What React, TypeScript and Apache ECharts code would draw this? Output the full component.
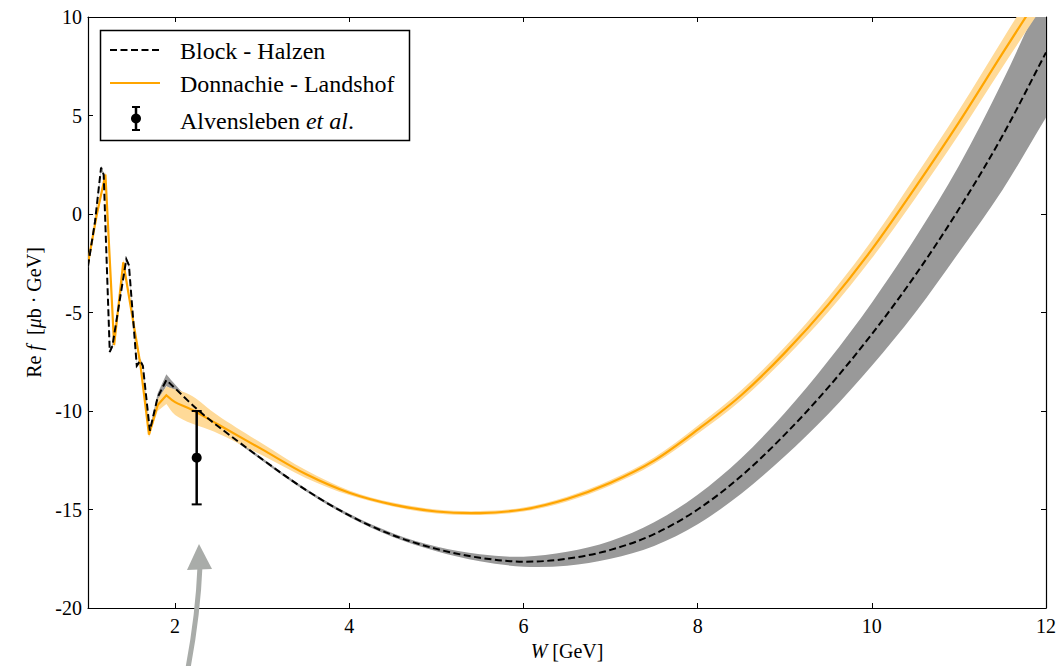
import React, { useEffect, useRef } from "react";
import * as echarts from "echarts";

// ---- Data ----
const bhW = [1.0, 1.08, 1.15, 1.18, 1.25, 1.28, 1.44, 1.47, 1.56, 1.6, 1.63, 1.71, 1.8, 1.9, 2.0, 2.25, 2.5, 3.0, 3.5, 4.0, 4.5, 5.0, 5.5, 6.0, 6.5, 7.0, 7.5, 8.0, 8.5, 9.0, 9.5, 10.0, 10.5, 11.0, 11.5, 12.0];
const bhRe = [-2.65, -0.4, 2.35, 2.0, -7.0, -6.7, -2.3, -2.6, -7.7, -7.45, -7.7, -11.0, -9.3, -8.43, -8.85, -9.9, -10.8, -12.45, -14.0, -15.3, -16.3, -17.0, -17.45, -17.65, -17.5, -17.05, -16.25, -15.0, -13.3, -11.2, -8.8, -6.1, -3.1, 0.25, 3.97, 8.2];
const bhErr = [0.1, 0.1, 0.1, 0.1, 0.1, 0.1, 0.1, 0.1, 0.1, 0.1, 0.1, 0.1, 0.2, 0.3, 0.2, 0.1, 0.07, 0.07, 0.07, 0.08, 0.1, 0.12, 0.18, 0.25, 0.35, 0.45, 0.6, 0.75, 0.9, 1.1, 1.35, 1.6, 1.9, 2.2, 2.75, 3.3];
const bhSharpUntil = 13; // W = 1.9, last resonance peak

const dlW = [1.0, 1.1, 1.2, 1.3, 1.405, 1.6, 1.7, 1.8, 1.9, 2.0, 2.2, 2.5, 3.0, 3.5, 4.0, 4.5, 5.0, 5.5, 6.0, 6.5, 7.0, 7.5, 8.0, 8.5, 9.0, 9.5, 10.0, 10.5, 11.0, 11.5, 12.0];
const dlRe = [-2.5, -0.05, 2.0, -6.65, -2.45, -7.6, -11.2, -9.7, -9.2, -9.55, -9.95, -10.7, -11.95, -13.2, -14.15, -14.75, -15.1, -15.18, -15.0, -14.47, -13.64, -12.52, -10.95, -9.2, -7.05, -4.6, -1.8, 1.35, 4.65, 8.15, 11.6];
const dlErr = [0.15, 0.15, 0.15, 0.15, 0.15, 0.15, 0.15, 0.3, 0.45, 0.65, 0.7, 0.45, 0.3, 0.2, 0.12, 0.1, 0.1, 0.1, 0.1, 0.12, 0.14, 0.16, 0.2, 0.25, 0.3, 0.38, 0.45, 0.55, 0.62, 0.7, 0.8];
const dlSharpUntil = 8; // W = 1.9

const ptW = [2.248];
const ptRe = [-12.37];
const ptErr = [2.37];

const xTicks = [2, 4, 6, 8, 10, 12];
const yMin = -20;
const yMax = 10;
const yStep = 5;

const legendNames = ["Block - Halzen", "Donnachie - Landshof", "Alvensleben {i|et al}."];

const FONT = "Liberation Serif, Times New Roman, serif";

// tangent for Catmull-Rom, one-sided at corners and ends
function tangent(p: number[][], k: number, s: number) {
  const n = p.length;
  if (k > s && k < n - 1) return [(p[k + 1][0] - p[k - 1][0]) / 2, (p[k + 1][1] - p[k - 1][1]) / 2];
  if (k < n - 1) return [p[k + 1][0] - p[k][0], p[k + 1][1] - p[k][1]];
  return [p[k][0] - p[k - 1][0], p[k][1] - p[k - 1][1]];
}

function segment(p: number[][], s: number, from: number, to: number) {
  const j = Math.min(from, to);
  if (j < s) return ` L${p[to][0]},${p[to][1]}`;
  const ta = tangent(p, from, s);
  const tb = tangent(p, to, s);
  const dir = to > from ? 1 : -1;
  const c1 = [p[from][0] + (dir * ta[0]) / 3, p[from][1] + (dir * ta[1]) / 3];
  const c2 = [p[to][0] - (dir * tb[0]) / 3, p[to][1] - (dir * tb[1]) / 3];
  return ` C${c1[0]},${c1[1]} ${c2[0]},${c2[1]} ${p[to][0]},${p[to][1]}`;
}

function linePath(p: number[][], s: number) {
  let d = `M${p[0][0]},${p[0][1]}`;
  for (let i = 1; i < p.length; i++) d += segment(p, s, i - 1, i);
  return d;
}

function bandPath(u: number[][], l: number[][], s: number) {
  let d = linePath(u, s);
  const n = l.length;
  d += ` L${l[n - 1][0]},${l[n - 1][1]}`;
  for (let i = n - 1; i > 0; i--) d += segment(l, s, i, i - 1);
  return d + " Z";
}

function bandSeries(w: number[], c: number[], e: number[], s: number, color: string, z: number) {
  return {
    type: "custom",
    clip: true,
    silent: true,
    z,
    data: [[w[0], c[0]]],
    encode: { x: 0, y: 1 },
    renderItem: (_params: any, api: any) => {
      const up = w.map((x, i) => api.coord([x, c[i] + e[i]]));
      const lo = w.map((x, i) => api.coord([x, c[i] - e[i]]));
      return {
        type: "path",
        shape: { pathData: bandPath(up, lo, s) },
        style: { fill: color, stroke: "none" },
      };
    },
  };
}

function curveSeries(w: number[], c: number[], s: number, style: any, z: number) {
  return {
    type: "custom",
    clip: true,
    silent: true,
    z,
    data: [[w[0], c[0]]],
    encode: { x: 0, y: 1 },
    renderItem: (_params: any, api: any) => {
      const pts = w.map((x, i) => api.coord([x, c[i]]));
      return {
        type: "path",
        shape: { pathData: linePath(pts, s) },
        style: { fill: "none", ...style },
      };
    },
  };
}

export default function App() {
  const ref = useRef<HTMLDivElement>(null);
  useEffect(() => {
    if (!ref.current) return;
    const chart = echarts.init(ref.current, undefined, { renderer: "svg" });
    const axisText = { fontFamily: FONT, fontSize: 20, color: "#000" };
    const lineAxis = { show: true, onZero: false, lineStyle: { color: "#000", width: 1.2 } };
    const tick = { show: true, inside: true, length: 5, lineStyle: { color: "#000", width: 1 } };

    const option: any = {
      animation: false,
      backgroundColor: "#fff",
      grid: { left: 88, right: 13, top: 17, bottom: 58, containLabel: false, outerBoundsMode: "none" },
      xAxis: [
        {
          type: "value", min: 1, max: 12, position: "bottom",
          axisLine: lineAxis,
          axisTick: { ...tick, customValues: xTicks },
          axisLabel: { show: true, customValues: xTicks, margin: 8, ...axisText },
          splitLine: { show: false },
          name: "{i|W} [GeV]", nameLocation: "middle", nameGap: 30,
          nameTextStyle: { ...axisText, rich: { i: { fontFamily: FONT, fontSize: 20, fontStyle: "italic", color: "#000" } } },
        },
        {
          type: "value", min: 1, max: 12, position: "top",
          axisLine: lineAxis,
          axisTick: { ...tick, customValues: xTicks },
          axisLabel: { show: false },
          splitLine: { show: false },
        },
      ],
      yAxis: [
        {
          type: "value", min: yMin, max: yMax, interval: yStep, position: "left",
          axisLine: lineAxis, axisTick: tick,
          axisLabel: { show: true, margin: 6, ...axisText },
          splitLine: { show: false },
          name: "Re {i|f}  [{i|μ}b · GeV]", nameLocation: "middle", nameGap: 44,
          nameTextStyle: { ...axisText, rich: { i: { fontFamily: FONT, fontSize: 20, fontStyle: "italic", color: "#000" } } },
        },
        {
          type: "value", min: yMin, max: yMax, interval: yStep, position: "right",
          axisLine: lineAxis, axisTick: tick,
          axisLabel: { show: false }, splitLine: { show: false },
        },
      ],
      series: [
        bandSeries(bhW, bhRe, bhErr, bhSharpUntil, "#999999", 1),
        bandSeries(dlW, dlRe, dlErr, dlSharpUntil, "#FFDA98", 2),
        curveSeries(dlW, dlRe, dlSharpUntil, { stroke: "#FFA500", lineWidth: 2.2 }, 3),
        curveSeries(bhW, bhRe, bhSharpUntil, { stroke: "#000", lineWidth: 2, lineDash: [7, 3.5] }, 4),
        {
          type: "custom", z: 5, silent: true,
          data: ptW.map((w, i) => [w, ptRe[i], ptErr[i]]),
          encode: { x: 0, y: 1 },
          renderItem: (_p: any, api: any) => {
            const w = api.value(0), v = api.value(1), e = api.value(2);
            const top = api.coord([w, v + e]);
            const bot = api.coord([w, v - e]);
            const mid = api.coord([w, v]);
            return {
              type: "group",
              children: [
                { type: "line", shape: { x1: top[0], y1: top[1], x2: bot[0], y2: bot[1] }, style: { stroke: "#000", lineWidth: 2.5 } },
                { type: "line", shape: { x1: top[0] - 5, y1: top[1], x2: top[0] + 5, y2: top[1] }, style: { stroke: "#000", lineWidth: 2 } },
                { type: "line", shape: { x1: bot[0] - 5, y1: bot[1], x2: bot[0] + 5, y2: bot[1] }, style: { stroke: "#000", lineWidth: 2 } },
                { type: "circle", shape: { cx: mid[0], cy: mid[1], r: 5 }, style: { fill: "#000" } },
              ],
            };
          },
        },
      ],
      graphic: [
        { type: "rect", z: 100, shape: { x: 100.5, y: 30.5, width: 309, height: 110 }, style: { fill: "#fff", stroke: "#000", lineWidth: 1.5 } },
        { type: "line", z: 101, shape: { x1: 110, y1: 50, x2: 160, y2: 50 }, style: { stroke: "#000", lineWidth: 2, lineDash: [7, 3.5] } },
        { type: "line", z: 101, shape: { x1: 110, y1: 83, x2: 160, y2: 83 }, style: { stroke: "#FFA500", lineWidth: 2.2 } },
        { type: "line", z: 101, shape: { x1: 136, y1: 107, x2: 136, y2: 130 }, style: { stroke: "#000", lineWidth: 2.5 } },
        { type: "line", z: 101, shape: { x1: 132, y1: 107, x2: 140, y2: 107 }, style: { stroke: "#000", lineWidth: 2 } },
        { type: "line", z: 101, shape: { x1: 132, y1: 130, x2: 140, y2: 130 }, style: { stroke: "#000", lineWidth: 2 } },
        { type: "circle", z: 101, shape: { cx: 136, cy: 118.5, r: 5 }, style: { fill: "#000" } },
        { type: "text", z: 101, x: 180, y: 50.5, style: { text: legendNames[0], fontFamily: FONT, fontSize: 24, fill: "#000", verticalAlign: "middle" } },
        { type: "text", z: 101, x: 180, y: 84, style: { text: legendNames[1], fontFamily: FONT, fontSize: 24, fill: "#000", verticalAlign: "middle" } },
        {
          type: "text", z: 101, x: 180, y: 121,
          style: {
            text: legendNames[2], fontFamily: FONT, fontSize: 24, fill: "#000", verticalAlign: "middle",
            rich: { i: { fontFamily: FONT, fontSize: 24, fontStyle: "italic", fill: "#000" } },
          },
        },
        // gray arrow annotation
        { type: "bezierCurve", z: 102, shape: { x1: 188, y1: 668, cpx1: 198, cpy1: 615, x2: 200, y2: 566 }, style: { stroke: "#a9aca9", lineWidth: 5, fill: "none" } },
        { type: "polygon", z: 102, shape: { points: [[199, 544], [187, 570], [212, 569]] }, style: { fill: "#a9aca9" } },
      ],
    };
    chart.setOption(option);
    return () => chart.dispose();
  }, []);
  return <div ref={ref} style={{ position: "fixed", left: 0, top: 0, width: 1059, height: 666 }} />;
}
